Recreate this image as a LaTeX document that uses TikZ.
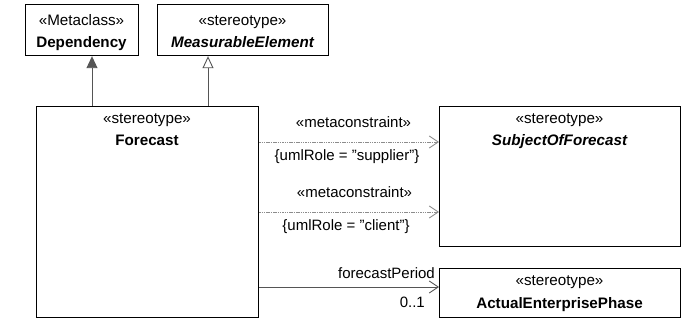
\documentclass[tikz,border=0pt]{standalone}
\usepackage{fontspec}
\setmainfont{Liberation Sans}
\usetikzlibrary{arrows.meta}
\definecolor{linegray}{RGB}{85,85,85}
\definecolor{dashgray}{RGB}{140,140,140}
\tikzset{
  umlbox/.style={draw=black, line width=1.2pt, rectangle, anchor=north west, inner sep=0pt},
  txt/.style={anchor=base, inner sep=0pt, font=\fontsize{15.2}{18}\selectfont},
  lbl/.style={inner sep=0pt, font=\fontsize{15}{17}\selectfont},
  assoc/.style={draw=linegray, line width=0.9pt, -{Straight Barb[length=9pt,width=12pt,line width=0.9pt]}},
  meta/.style={draw=dashgray, line width=0.9pt, dash pattern=on 1.5pt off 0.8pt, -{Straight Barb[length=9pt,width=12pt,line width=0.9pt,sep=0pt]}},
  genfill/.style={draw=linegray, line width=0.9pt, -{Triangle[length=12pt,width=11pt,fill=linegray]}},
  genopen/.style={draw=linegray, line width=0.9pt, -{Triangle[open,length=12pt,width=11pt,fill=white]}},
}
\begin{document}
\begin{tikzpicture}[x=1pt,y=-1pt]
\useasboundingbox (0,0) rectangle (699,323);
% boxes
\node[umlbox, minimum width=113pt, minimum height=51pt] (dep) at (25,4) {};
\node[umlbox, minimum width=171pt, minimum height=51pt] (meas) at (157,4) {};
\node[umlbox, minimum width=222pt, minimum height=211pt] (fc) at (36,106) {};
\node[umlbox, minimum width=241pt, minimum height=140pt] (sub) at (439,106) {};
\node[umlbox, minimum width=241pt, minimum height=49pt] (aep) at (439,268) {};
% box texts
\node[txt] (dep1) at (81.5,26) {«Metaclass»};
\node[txt] (dep2) at (81.5,48) {\bfseries Dependency};
\node[txt] (meas1) at (242.5,26) {«stereotype»};
\node[txt] (meas2) at (242.5,48) {\bfseries\itshape MeasurableElement};
\node[txt] (fc1) at (147,124) {«stereotype»};
\node[txt] (fc2) at (147,146) {\bfseries Forecast};
\node[txt] (sub1) at (559.5,124) {«stereotype»};
\node[txt] (sub2) at (559.5,146) {\bfseries\itshape SubjectOfForecast};
\node[txt] (aep1) at (559.5,285) {«stereotype»};
\node[txt] (aep2) at (559.5,308) {\bfseries ActualEnterprisePhase};
% generalization / dependency to metaclass
\draw[genfill] ([xshift=56pt]fc.north west) -- ([xshift=56pt]fc.north west |- dep.south);
\draw[genopen] ([xshift=172pt]fc.north west) -- ([xshift=172pt]fc.north west |- meas.south);
% metaconstraints
\draw[meta] ([yshift=-36pt]fc.north east) -- ([yshift=-36pt]fc.north east -| sub.west);
\draw[meta] ([yshift=-106pt]fc.north east) -- ([yshift=-106pt]fc.north east -| sub.west);
% association
\draw[assoc] ([yshift=-181pt]fc.north east) -- ([yshift=-181pt]fc.north east -| aep.west);
% labels
\node[lbl, anchor=base] (m1) at (353.5,128) {«metaconstraint»};
\node[lbl, anchor=base] (r1) at (347,161) {\{umlRole = "supplier"\}};
\node[lbl, anchor=base] (m2) at (354.5,198) {«metaconstraint»};
\node[lbl, anchor=base] (r2) at (346,231) {\{umlRole = "client"\}};
\node[lbl, anchor=base east] (fp) at (435,278) {forecastPeriod};
\node[lbl, anchor=base east] (mult) at (425,307) {0..1};
\end{tikzpicture}
\end{document}
